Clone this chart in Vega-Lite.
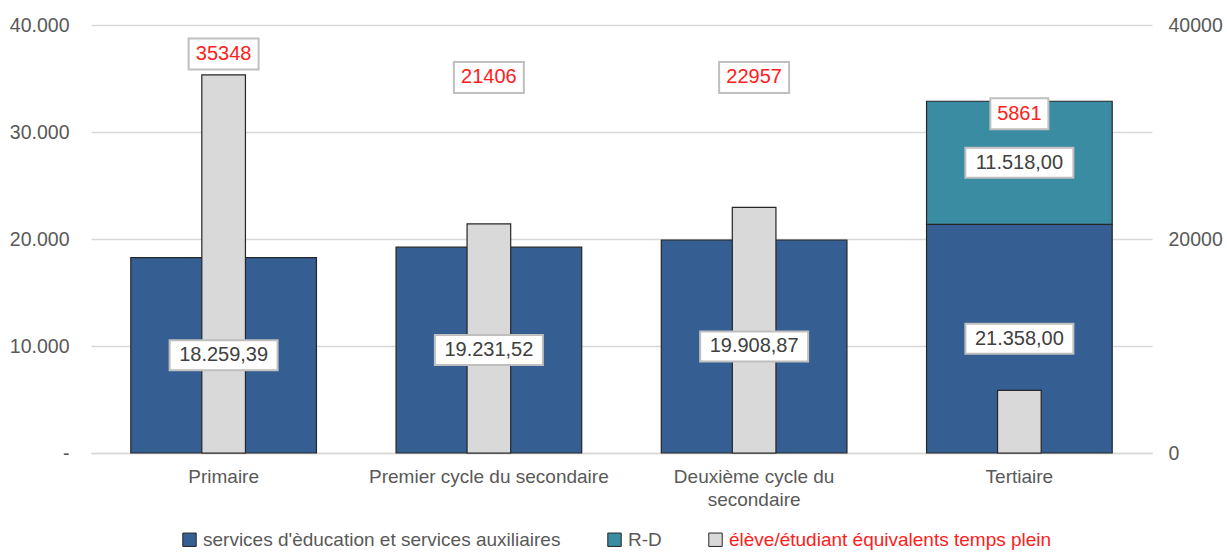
{
  "$schema": "https://vega.github.io/schema/vega-lite/v6.json",
  "width": 1061,
  "height": 428,
  "padding": {"left": 9, "top": 15, "right": 4, "bottom": 0},
  "config": {
    "locale": {"number": {"decimal": ",", "thousands": ".", "grouping": [3], "currency": ["", " €"]}},
    "view": {"stroke": null},
    "font": "Liberation Sans"
  },
  "datasets": {
    "spend": [
      {"cat": "Primaire", "series": "services d'èducation et services auxiliaires", "value": 18259.39},
      {"cat": "Premier cycle du secondaire", "series": "services d'èducation et services auxiliaires", "value": 19231.52},
      {"cat": "Deuxième cycle du secondaire", "series": "services d'èducation et services auxiliaires", "value": 19908.87},
      {"cat": "Tertiaire", "series": "services d'èducation et services auxiliaires", "value": 21358.00},
      {"cat": "Tertiaire", "series": "R-D", "value": 11518.00}
    ],
    "students": [
      {"cat": "Primaire", "series": "élève/étudiant équivalents temps plein", "value": 35348},
      {"cat": "Premier cycle du secondaire", "series": "élève/étudiant équivalents temps plein", "value": 21406},
      {"cat": "Deuxième cycle du secondaire", "series": "élève/étudiant équivalents temps plein", "value": 22957},
      {"cat": "Tertiaire", "series": "élève/étudiant équivalents temps plein", "value": 5861}
    ]
  },
  "encoding": {
    "x": {
      "field": "cat",
      "type": "nominal",
      "sort": ["Primaire", "Premier cycle du secondaire", "Deuxième cycle du secondaire", "Tertiaire"],
      "scale": {"paddingInner": 0.3, "paddingOuter": 0.15},
      "axis": {
        "title": null,
        "labelAngle": 0,
        "ticks": false,
        "domainColor": "#d9d9d9",
        "domainWidth": 1.5,
        "labelColor": "#595959",
        "labelFontSize": 19,
        "labelPadding": 14,
        "labelLimit": 400,
        "labelLineHeight": 23,
        "labelExpr": "datum.label == 'Deuxième cycle du secondaire' ? ['Deuxième cycle du', 'secondaire'] : datum.label"
      }
    }
  },
  "layer": [
    {
      "data": {"name": "spend"},
      "transform": [
        {"calculate": "datum.series == 'R-D' ? 2 : 1", "as": "ord"},
        {"stack": "value", "groupby": ["cat"], "sort": [{"field": "ord"}], "as": ["v0", "v1"]}
      ],
      "mark": {"type": "bar", "stroke": "#262626", "strokeWidth": 1.2},
      "encoding": {
        "y": {
          "field": "v1",
          "type": "quantitative",
          "scale": {"domain": [0, 40000], "nice": false},
          "axis": {
            "title": null,
            "values": [0, 10000, 20000, 30000, 40000],
            "format": ",.0f",
            "labelExpr": "datum.value == 0 ? '-' : datum.label",
            "grid": true,
            "gridColor": "#d9d9d9",
            "gridWidth": 1.5,
            "domain": false,
            "ticks": false,
            "labelColor": "#595959",
            "labelFontSize": 19.5,
            "labelPadding": 22
          }
        },
        "y2": {"field": "v0"},
        "color": {
          "field": "series",
          "type": "nominal",
          "scale": {
            "domain": ["services d'èducation et services auxiliaires", "R-D", "élève/étudiant équivalents temps plein"],
            "range": ["#355f93", "#3a8ca3", "#d9d9d9"]
          },
          "legend": {
            "orient": "none",
            "legendX": 89,
            "legendY": 505,
            "direction": "horizontal",
            "title": null,
            "symbolType": "square",
            "symbolSize": 180,
            "symbolStrokeColor": "#262626",
            "symbolStrokeWidth": 1,
            "labelFontSize": 19,
            "labelColor": "#595959",
            "labelLimit": 600,
            "columnPadding": 44,
            "labelOffset": 4,
            "encode": {
              "labels": {"update": {"fill": {"signal": "datum.label == 'élève/étudiant équivalents temps plein' ? '#ff2020' : '#595959'"}}}
            }
          }
        }
      }
    },
    {
      "data": {"name": "students"},
      "mark": {"type": "bar", "width": {"band": 0.235}, "stroke": "#262626", "strokeWidth": 1.2},
      "encoding": {
        "y": {
          "field": "value",
          "type": "quantitative",
          "scale": {"domain": [0, 40000], "nice": false},
          "axis": {
            "orient": "right",
            "title": null,
            "values": [0, 20000, 40000],
            "format": "d",
            "grid": false,
            "domain": false,
            "ticks": false,
            "labelColor": "#595959",
            "labelFontSize": 19.5,
            "labelPadding": 16
          }
        },
        "color": {
          "field": "series",
          "type": "nominal",
          "scale": {
            "domain": ["services d'èducation et services auxiliaires", "R-D", "élève/étudiant équivalents temps plein"],
            "range": ["#355f93", "#3a8ca3", "#d9d9d9"]
          },
          "legend": null
        }
      }
    },
    {
      "data": {"name": "spend"},
      "transform": [
        {"calculate": "datum.series == 'R-D' ? 2 : 1", "as": "ord"},
        {"stack": "value", "groupby": ["cat"], "sort": [{"field": "ord"}], "as": ["v0", "v1"]},
        {"calculate": "(datum.v0 + datum.v1) / 2", "as": "mid"}
      ],
      "layer": [
        {
          "mark": {"type": "point", "filled": true, "fill": "white", "stroke": "#bfbfbf", "strokeWidth": 2, "opacity": 1, "size": 11664, "shape": "M-1,-0.278H1V0.278H-1Z"},
          "encoding": {
            "y": {"field": "mid", "type": "quantitative", "scale": {"domain": [0, 40000], "nice": false}, "axis": null}
          }
        },
        {
          "mark": {"type": "text", "fontSize": 20, "color": "#404040", "baseline": "middle", "align": "center"},
          "encoding": {
            "y": {"field": "mid", "type": "quantitative", "scale": {"domain": [0, 40000], "nice": false}, "axis": null},
            "text": {"field": "value", "type": "quantitative", "format": ",.2f"}
          }
        }
      ]
    },
    {
      "data": {"name": "students"},
      "transform": [
        {"calculate": "datum.cat == 'Tertiaire' ? 31700 : max(datum.value + 1950, 35100)", "as": "ly"}
      ],
      "layer": [
        {
          "mark": {"type": "point", "filled": true, "fill": "white", "stroke": "#bfbfbf", "strokeWidth": 2, "opacity": 1, "size": 11664},
          "encoding": {
            "y": {"field": "ly", "type": "quantitative", "scale": {"domain": [0, 40000], "nice": false}, "axis": null},
            "shape": {
              "condition": {"test": "datum.cat == 'Tertiaire'", "value": "M-0.537,-0.287H0.537V0.287H-0.537Z"},
              "value": "M-0.648,-0.287H0.648V0.287H-0.648Z"
            }
          }
        },
        {
          "mark": {"type": "text", "fontSize": 20, "color": "#ff2020", "baseline": "middle", "align": "center"},
          "encoding": {
            "y": {"field": "ly", "type": "quantitative", "scale": {"domain": [0, 40000], "nice": false}, "axis": null},
            "text": {"field": "value", "type": "quantitative", "format": "d"}
          }
        }
      ]
    }
  ],
  "resolve": {"scale": {"y": "independent"}}
}
